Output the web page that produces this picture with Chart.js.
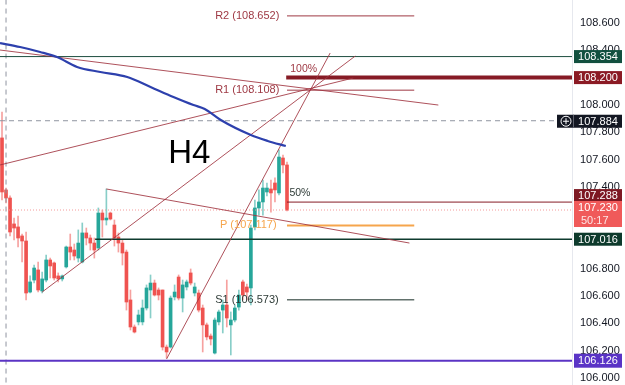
<!DOCTYPE html>
<html>
<head>
<meta charset="utf-8">
<script src="https://cdn.jsdelivr.net/npm/chart.js@4.4.1/dist/chart.umd.min.js"></script>
<style>
  html, body { margin: 0; padding: 0; background: #fff; }
  #wrap { width: 625px; height: 385px; }
</style>
</head>
<body>
<div id="wrap"><canvas id="chart" width="625" height="385"></canvas></div>
<script>
// H4 candles (oldest first)
const opens = [107.758, 107.377, 107.318, 107.128, 107.106, 107.040, 107.003, 106.629, 106.717, 106.791,
  106.637, 106.717, 106.864, 106.842, 106.747, 106.725, 106.813, 106.959, 106.937, 106.878,
  106.849, 107.062, 107.025, 106.988, 106.952, 107.208, 107.157, 107.208, 107.120, 107.032,
  106.988, 106.922, 106.571, 106.373, 106.410, 106.410, 106.512, 106.644, 106.695, 106.644,
  106.644, 106.226, 106.226, 106.593, 106.739, 106.585, 106.666, 106.769, 106.622, 106.622,
  106.512, 106.388, 106.307, 106.182, 106.410, 106.497, 106.534, 106.388, 106.424, 106.519,
  106.703, 106.666, 106.659, 107.106, 107.245, 107.289, 107.362, 107.384, 107.428, 107.355,
  107.611, 107.560];
const highs = [107.948, 107.391, 107.333, 107.171, 107.186, 107.054, 107.069, 106.747, 106.827, 106.849,
  106.776, 106.900, 106.878, 106.849, 106.769, 106.754, 106.966, 107.054, 106.981, 107.084,
  107.135, 107.098, 107.047, 107.025, 107.245, 107.230, 107.384, 107.215, 107.157, 107.062,
  107.010, 106.937, 106.644, 106.388, 106.497, 106.571, 106.681, 106.754, 106.717, 106.659,
  106.644, 106.241, 106.600, 106.681, 106.754, 106.717, 106.717, 106.798, 106.695, 106.644,
  106.534, 106.402, 106.322, 106.439, 106.497, 106.571, 106.717, 106.483, 106.534, 106.644,
  106.717, 106.688, 107.120, 107.303, 107.377, 107.450, 107.428, 107.450, 107.465, 107.670,
  107.633, 107.582];
const lows = [107.303, 107.281, 107.040, 107.010, 106.959, 106.849, 106.571, 106.622, 106.695, 106.629,
  106.622, 106.703, 106.732, 106.717, 106.703, 106.710, 106.805, 106.864, 106.864, 106.849,
  106.842, 106.974, 106.937, 106.878, 106.937, 107.032, 107.120, 107.157, 106.966, 106.922,
  106.827, 106.497, 106.351, 106.329, 106.388, 106.388, 106.497, 106.439, 106.600, 106.571,
  106.204, 106.146, 106.219, 106.571, 106.571, 106.483, 106.644, 106.681, 106.600, 106.483,
  106.190, 106.278, 106.241, 106.175, 106.388, 106.329, 106.373, 106.168, 106.410, 106.497,
  106.571, 106.571, 106.534, 107.084, 107.193, 107.193, 107.333, 107.215, 107.289, 107.340,
  107.501, 107.223];
const closes = [107.362, 107.318, 107.069, 107.098, 107.025, 107.003, 106.622, 106.703, 106.805, 106.644,
  106.725, 106.864, 106.820, 106.732, 106.725, 106.747, 106.959, 106.922, 106.893, 106.988,
  107.062, 107.025, 106.988, 106.937, 107.208, 107.157, 107.171, 107.164, 107.025, 106.988,
  106.915, 106.556, 106.373, 106.336, 106.461, 106.512, 106.659, 106.695, 106.607, 106.607,
  106.226, 106.190, 106.585, 106.629, 106.585, 106.681, 106.703, 106.695, 106.666, 106.497,
  106.388, 106.300, 106.285, 106.424, 106.483, 106.534, 106.439, 106.424, 106.512, 106.607,
  106.607, 106.629, 107.098, 107.245, 107.289, 107.391, 107.391, 107.355, 107.377, 107.618,
  107.560, 107.230];

// moving average (blue curve)
const maIdx = [-0.5, 4.5, 9.5, 13.7, 18.7, 24.5, 31.2, 37, 42.7, 47.7, 50.5, 54.5, 62, 66.2, 70.7];
const maVals = [108.453, 108.424, 108.388, 108.351, 108.278, 108.241, 108.204, 108.131, 108.058, 107.999, 107.970, 107.889, 107.779, 107.736, 107.699];

// drawn trend lines (start index/price -> end index/price)
const trendStartIdx = [-0.5, -0.5, 41, 10, 26];
const trendStartVal = [107.560, 108.402, 106.139, 106.629, 107.384];
const trendEndIdx = [87.5, 108.7, 81.75, 88, 101.5];
const trendEndVal = [108.197, 107.999, 108.380, 108.358, 106.988];

// pivot levels
const pivotNames = ['R2', 'R1', 'P', 'S1'];
const pivotVals = [108.652, 108.108, 107.117, 106.573];
const pivotFrom = 71;
const pivotTo = 102.7;

// horizontal price levels and their tags
const levelVals = [108.354, 108.200, 107.884, 107.288, 107.230, 107.016, 106.126];
const levelFrom = [-0.5, 70.8, -0.5, 71, -0.5, 23.2, -0.5];
const levelTo = 142;
const fibLabels = ['100%', '50%'];
const fibVals = [108.200, 107.288];

const tickValues = [106.0, 106.2, 106.4, 106.6, 106.8, 107.0, 107.2, 107.4, 107.6, 107.8, 108.0, 108.2, 108.4, 108.6];
const countdown = '50:17';

const FONT = "'Liberation Sans', Arial, sans-serif";
const UP = '#26a69a', DOWN = '#ef5350';
const idx = opens.map((_, i) => i);
const isUp = i => closes[i] >= opens[i];

const levelStyle = [
  { color: '#1d4d3f', width: 1, dash: [] },
  { color: '#861b25', width: 4, dash: [] },
  { color: '#8f94a0', width: 1, dash: [5, 4] },
  { color: '#861b25', width: 1, dash: [] },
  { color: '#f49a9a', width: 1, dash: [1, 2] },
  { color: '#0e3b2e', width: 1.5, dash: [] },
  { color: '#5b34c4', width: 2, dash: [] }
];
const tagStyle = [
  { bg: '#12503f', top: -6.5, h: 13 },
  { bg: '#8b1a24', top: -6.5, h: 13 },
  { bg: '#131722', top: -6, h: 13 },
  { bg: '#7d1923', top: -13, h: 12 },
  { bg: '#f05a5a', top: -9, h: 26 },
  { bg: '#0d3a2c', top: -6.5, h: 13 },
  { bg: '#5a34c6', top: -7, h: 14 }
];
const pivotStyle = [
  { color: '#9e3843', width: 1, text: '#9e3843', at: 53.1 },
  { color: '#9e3843', width: 1, text: '#9e3843', at: 53.1 },
  { color: '#f6a54c', width: 2, text: '#f6a54c', at: 54.3 },
  { color: '#62716c', width: 1.5, text: '#2e3b37', at: 53.1 }
];

const datasets = [];

// candles: wick + body as floating bars
datasets.push({
  type: 'bar', order: 20, grouped: false, barThickness: 1,
  data: idx.map(i => ({ x: i, y: [lows[i], highs[i]] })),
  backgroundColor: idx.map(i => isUp(i) ? 'rgba(38,166,154,0.55)' : 'rgba(239,83,80,0.55)')
});
datasets.push({
  type: 'bar', order: 19, grouped: false, barThickness: 3, minBarLength: 1,
  data: idx.map(i => ({ x: i, y: [opens[i], closes[i]] })),
  backgroundColor: idx.map(i => isUp(i) ? UP : DOWN)
});

// price levels
levelVals.forEach((v, k) => {
  datasets.push({
    type: 'line', order: 5,
    data: [{ x: levelFrom[k], y: v }, { x: levelTo, y: v }],
    borderColor: levelStyle[k].color, borderWidth: levelStyle[k].width,
    borderDash: levelStyle[k].dash, pointRadius: 0
  });
});

// crosshair vertical
datasets.push({
  type: 'line', order: 6,
  data: [{ x: 1, y: 105.9 }, { x: 1, y: 108.8 }],
  borderColor: '#8f94a0', borderWidth: 1, borderDash: [5, 4], pointRadius: 0
});

// pivots
pivotVals.forEach((v, k) => {
  datasets.push({
    type: 'line', order: 4,
    data: [{ x: pivotFrom, y: v }, { x: pivotTo, y: v }],
    borderColor: pivotStyle[k].color, borderWidth: pivotStyle[k].width, pointRadius: 0
  });
});

// trend lines
trendStartIdx.forEach((s, k) => {
  datasets.push({
    type: 'line', order: 3,
    data: [{ x: s, y: trendStartVal[k] }, { x: trendEndIdx[k], y: trendEndVal[k] }],
    borderColor: 'rgba(160,50,62,0.85)', borderWidth: 1, pointRadius: 0
  });
});

// moving average
datasets.push({
  type: 'line', order: 2,
  data: maIdx.map((x, k) => ({ x, y: maVals[k] })),
  borderColor: '#2d40ad', borderWidth: 2.2, pointRadius: 0,
  cubicInterpolationMode: 'monotone'
});

const overlay = {
  id: 'overlay',
  afterDatasetsDraw(chart) {
    const { ctx, scales: { x, y } } = chart;
    ctx.save();
    ctx.textBaseline = 'middle';
    ctx.textAlign = 'left';
    ctx.font = '11px ' + FONT;
    pivotNames.forEach((n, k) => {
      ctx.fillStyle = pivotStyle[k].text;
      ctx.fillText(n + ' (' + pivotVals[k].toFixed(3) + ')', x.getPixelForValue(pivotStyle[k].at), y.getPixelForValue(pivotVals[k]));
    });
    ctx.font = '10.5px ' + FONT;
    ctx.fillStyle = '#9e3843';
    ctx.fillText(fibLabels[0], x.getPixelForValue(71.8), y.getPixelForValue(fibVals[0]) - 8);
    ctx.fillStyle = '#2e3b37';
    ctx.fillText(fibLabels[1], x.getPixelForValue(71.6), y.getPixelForValue(fibVals[1]) - 9);
    ctx.font = '33px ' + FONT;
    ctx.fillStyle = '#000';
    ctx.textBaseline = 'alphabetic';
    ctx.fillText('H4', x.getPixelForValue(41.4), y.getPixelForValue(107.574));
    ctx.restore();
  },
  afterDraw(chart) {
    const { ctx, chartArea, scales: { y } } = chart;
    ctx.save();
    const left = chartArea.right + 2, w = 48;
    ctx.textAlign = 'center';
    ctx.textBaseline = 'middle';
    ctx.font = '11px ' + FONT;
    levelVals.forEach((v, k) => {
      const py = y.getPixelForValue(v);
      const st = tagStyle[k];
      const top = py + st.top;
      ctx.fillStyle = st.bg;
      if (k === 2) {
        // crosshair tag with the plus button
        ctx.fillRect(left - 17, top, w + 17, st.h);
        ctx.strokeStyle = '#fff';
        ctx.lineWidth = 1;
        ctx.beginPath();
        ctx.arc(left - 8, top + st.h / 2, 5, 0, Math.PI * 2);
        ctx.moveTo(left - 11, top + st.h / 2); ctx.lineTo(left - 5, top + st.h / 2);
        ctx.moveTo(left - 8, top + st.h / 2 - 3); ctx.lineTo(left - 8, top + st.h / 2 + 3);
        ctx.stroke();
        ctx.strokeStyle = '#5d606b';
        ctx.beginPath(); ctx.moveTo(left - 0.5, top); ctx.lineTo(left - 0.5, top + st.h); ctx.stroke();
      } else {
        ctx.fillRect(left, top, w, st.h);
      }
      ctx.fillStyle = '#fff';
      if (k === 4) {
        ctx.fillText(v.toFixed(3), left + w / 2, top + 7);
        ctx.fillStyle = 'rgba(255,255,255,0.85)';
        ctx.textAlign = 'left';
        ctx.fillText(countdown, left + 7, top + 19.5);
        ctx.textAlign = 'center';
      } else {
        ctx.fillText(v.toFixed(3), left + w / 2, top + st.h / 2 + 0.5);
      }
    });
    ctx.restore();
  }
};

new Chart(document.getElementById('chart'), {
  type: 'bar',
  data: { datasets },
  options: {
    responsive: false,
    animation: false,
    layout: { padding: 0 },
    plugins: { legend: { display: false }, tooltip: { enabled: false } },
    scales: {
      x: { type: 'linear', min: -0.5, max: 142, offset: false, display: false },
      y: {
        position: 'right',
        min: 105.948, max: 108.7685,
        afterBuildTicks: s => { s.ticks = tickValues.map(v => ({ value: v })); },
        afterFit: s => { s.width = 53; s.paddingTop = 0; s.paddingBottom = 0; },
        grid: { display: false, drawTicks: false },
        border: { display: true, color: '#e6e8ee' },
        ticks: {
          padding: 8, color: '#131722',
          font: { size: 11, family: FONT },
          callback: v => Number(v).toFixed(3)
        }
      }
    }
  },
  plugins: [overlay]
});
</script>
</body>
</html>
